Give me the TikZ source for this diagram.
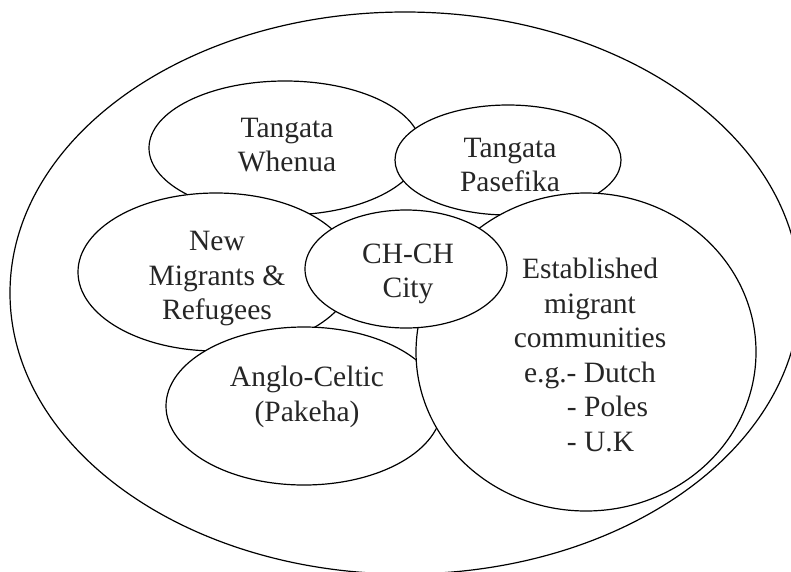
\documentclass[tikz,border=0pt]{standalone}
\usepackage{fontspec}
\setmainfont{Liberation Serif}
\begin{document}
\begin{tikzpicture}[x=1pt,y=-1pt,
  blob/.style={draw=black, line width=1.2pt, fill=white},
  lbl/.style={align=center, inner sep=0pt, text=black!85, font=\fontsize{29.5}{34.5}\selectfont}]
\useasboundingbox (0,0) rectangle (791,571);
\fill[white] (0,0) rectangle (791,571);
\begin{scope}
\clip (0,0) rectangle (791,571);
% outer
\draw[blob] (405,293) ellipse [x radius=395, y radius=281];
% Tangata Whenua
\draw[blob] (285,148) ellipse [x radius=136, y radius=67];
% Tangata Pasefika
\draw[blob] (508,160) ellipse [x radius=113, y radius=55];
% New Migrants
\draw[blob] (216,272) ellipse [x radius=138, y radius=79];
% Anglo-Celtic
\draw[blob] (304,406) ellipse [x radius=138, y radius=79];
% Established
\draw[blob] (586,352) ellipse [x radius=170, y radius=159];
% CH-CH City
\draw[blob] (406,269) ellipse [x radius=101, y radius=59];
\end{scope}
\node[lbl] (tw) at (287,145) {Tangata\\Whenua};
\node[lbl] (tp) at (510,165) {Tangata\\Pasefika};
\node[lbl] (nm) at (217,279) {New\\Migrants \&\\Refugees};
\node[lbl] (ch) at (408,274) {CH-CH\\City};
\node[lbl] (ac) at (307,397) {Anglo-Celtic\\(Pakeha)};
\node[lbl] (em) at (590,355) {Established\\migrant\\communities\\e.g.- Dutch\\\hspace*{35pt}- Poles\\\hspace*{21pt}- U.K};
\end{tikzpicture}
\end{document}
